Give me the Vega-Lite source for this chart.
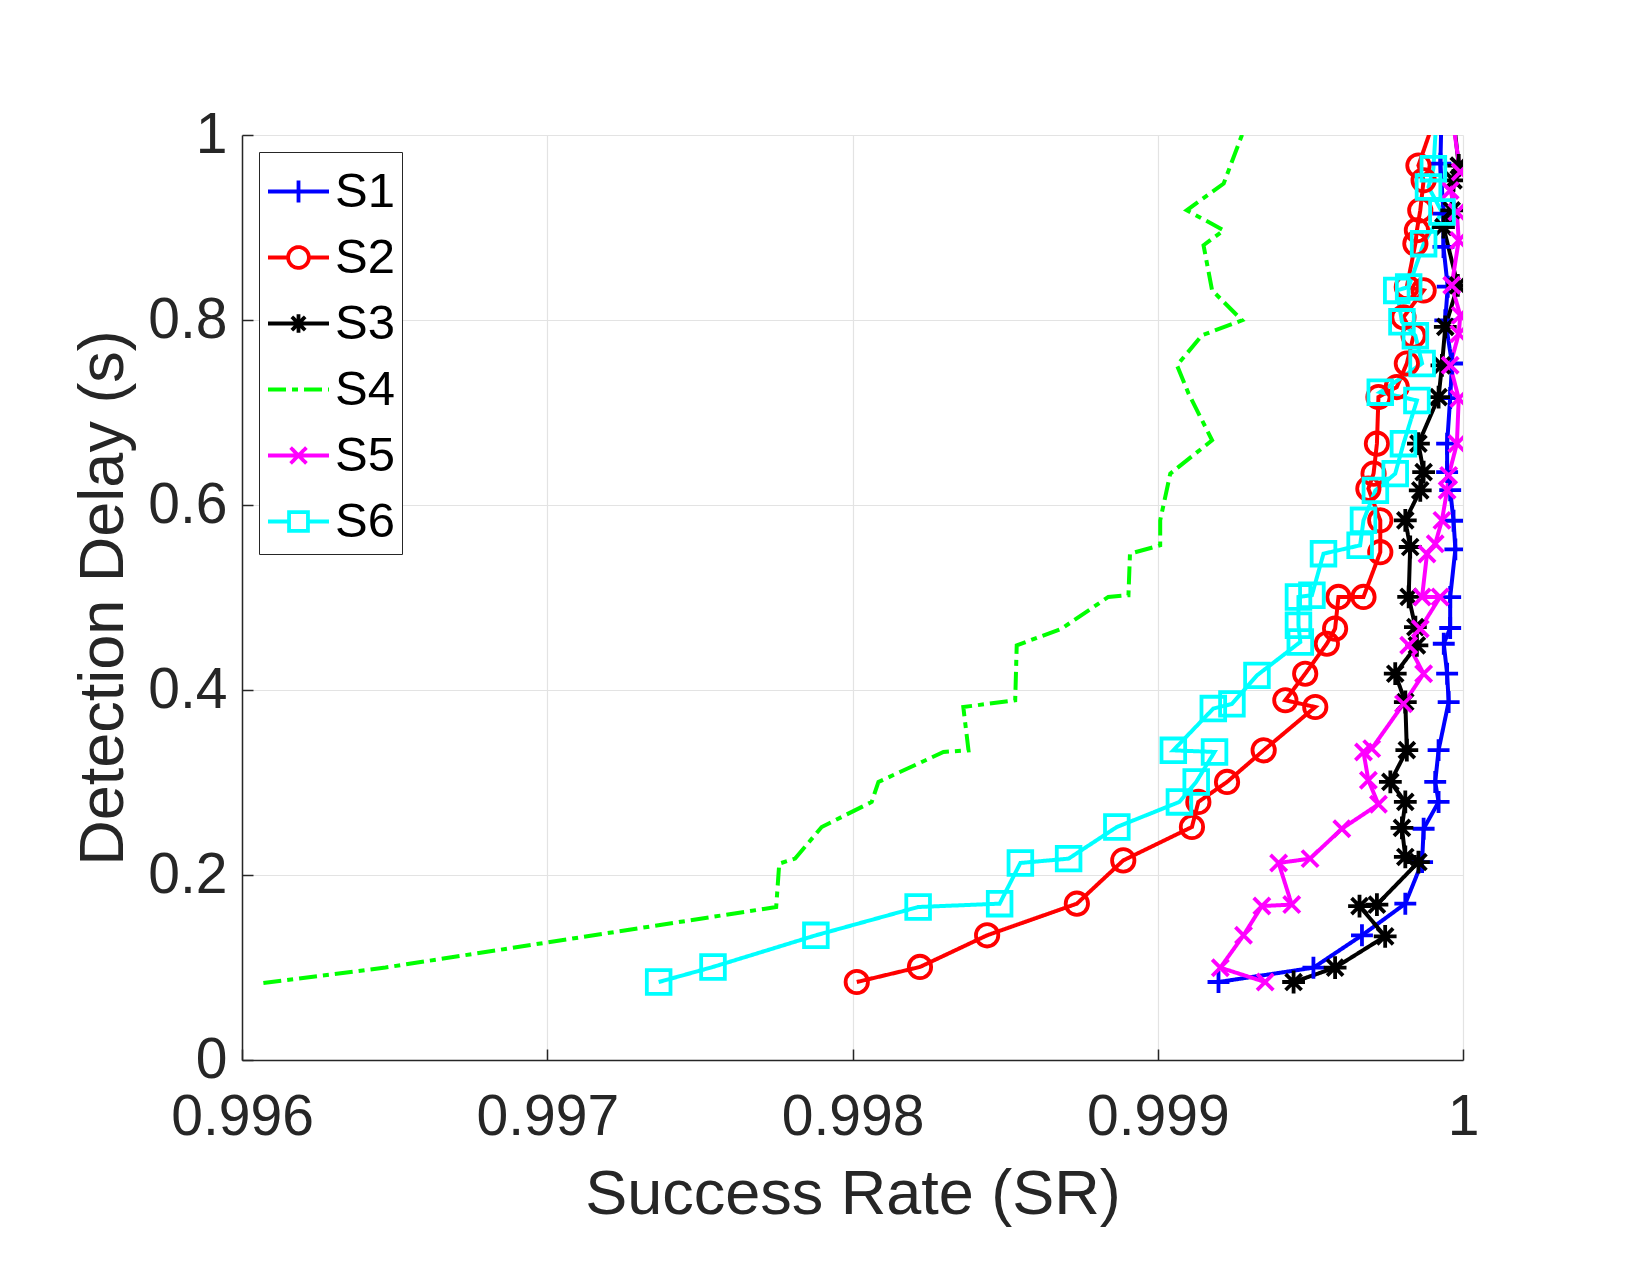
{
  "$schema": "https://vega.github.io/schema/vega-lite/v6.json",
  "width": 1221,
  "height": 925,
  "autosize": {"type": "none"},
  "padding": {"left": 242, "top": 135, "right": 187, "bottom": 215},
  "background": "white",
  "config": {"view": {"stroke": null}, "font": "Liberation Sans"},
  "data": {"values": [
    {"s":"S1","i":0,"y":0.0843,"x":0.999199},{"s":"S1","i":1,"y":0.0998,"x":0.99951},{"s":"S1","i":2,"y":0.1348,"x":0.999669},{"s":"S1","i":3,"y":0.169,"x":0.999811},{"s":"S1","i":4,"y":0.214,"x":0.999866},{"s":"S1","i":5,"y":0.25,"x":0.999871},{"s":"S1","i":6,"y":0.279,"x":0.99992},{"s":"S1","i":7,"y":0.3006,"x":0.999909},{"s":"S1","i":8,"y":0.335,"x":0.99992},{"s":"S1","i":9,"y":0.387,"x":0.999953},{"s":"S1","i":10,"y":0.4176,"x":0.999948},{"s":"S1","i":11,"y":0.45,"x":0.999937},{"s":"S1","i":12,"y":0.467,"x":0.999958},{"s":"S1","i":13,"y":0.5005,"x":0.999958},{"s":"S1","i":14,"y":0.552,"x":0.999975},{"s":"S1","i":15,"y":0.583,"x":0.999969},{"s":"S1","i":16,"y":0.616,"x":0.999958},{"s":"S1","i":17,"y":0.6356,"x":0.999948},{"s":"S1","i":18,"y":0.6663,"x":0.999948},{"s":"S1","i":19,"y":0.7156,"x":0.999958},{"s":"S1","i":20,"y":0.753,"x":0.999964},{"s":"S1","i":21,"y":0.7997,"x":0.999942},{"s":"S1","i":22,"y":0.836,"x":0.99995},{"s":"S1","i":23,"y":0.879,"x":0.999936},{"s":"S1","i":24,"y":0.915,"x":0.999936},{"s":"S1","i":25,"y":0.969,"x":0.999926},{"s":"S1","i":26,"y":1.03,"x":0.99993},
    {"s":"S2","i":0,"y":0.0843,"x":0.998014},{"s":"S2","i":1,"y":0.1006,"x":0.998221},{"s":"S2","i":2,"y":0.1348,"x":0.998441},{"s":"S2","i":3,"y":0.169,"x":0.998735},{"s":"S2","i":4,"y":0.2158,"x":0.998887},{"s":"S2","i":5,"y":0.2519,"x":0.999112},{"s":"S2","i":6,"y":0.279,"x":0.999133},{"s":"S2","i":7,"y":0.3006,"x":0.999227},{"s":"S2","i":8,"y":0.3348,"x":0.999347},{"s":"S2","i":9,"y":0.3816,"x":0.999516},{"s":"S2","i":10,"y":0.3889,"x":0.999418},{"s":"S2","i":11,"y":0.4176,"x":0.999483},{"s":"S2","i":12,"y":0.45,"x":0.999554},{"s":"S2","i":13,"y":0.4663,"x":0.999581},{"s":"S2","i":14,"y":0.5006,"x":0.999592},{"s":"S2","i":15,"y":0.5006,"x":0.999674},{"s":"S2","i":16,"y":0.549,"x":0.999729},{"s":"S2","i":17,"y":0.5834,"x":0.999729},{"s":"S2","i":18,"y":0.6177,"x":0.99969},{"s":"S2","i":19,"y":0.6339,"x":0.999707},{"s":"S2","i":20,"y":0.6663,"x":0.999718},{"s":"S2","i":21,"y":0.7167,"x":0.999723},{"s":"S2","i":22,"y":0.7275,"x":0.999783},{"s":"S2","i":23,"y":0.753,"x":0.999816},{"s":"S2","i":24,"y":0.783,"x":0.999838},{"s":"S2","i":25,"y":0.803,"x":0.999805},{"s":"S2","i":26,"y":0.832,"x":0.999871},{"s":"S2","i":27,"y":0.8357,"x":0.999816},{"s":"S2","i":28,"y":0.8825,"x":0.999844},{"s":"S2","i":29,"y":0.897,"x":0.999849},{"s":"S2","i":30,"y":0.9186,"x":0.99986},{"s":"S2","i":31,"y":0.951,"x":0.999871},{"s":"S2","i":32,"y":0.967,"x":0.999854},{"s":"S2","i":33,"y":1.03,"x":0.99992},
    {"s":"S3","i":0,"y":0.0843,"x":0.999445},{"s":"S3","i":1,"y":0.0998,"x":0.999581},{"s":"S3","i":2,"y":0.1337,"x":0.999745},{"s":"S3","i":3,"y":0.1664,"x":0.999661},{"s":"S3","i":4,"y":0.168,"x":0.999718},{"s":"S3","i":5,"y":0.214,"x":0.999854},{"s":"S3","i":6,"y":0.2195,"x":0.999811},{"s":"S3","i":7,"y":0.251,"x":0.9998},{"s":"S3","i":8,"y":0.279,"x":0.999811},{"s":"S3","i":9,"y":0.3006,"x":0.999762},{"s":"S3","i":10,"y":0.335,"x":0.999816},{"s":"S3","i":11,"y":0.387,"x":0.999811},{"s":"S3","i":12,"y":0.4176,"x":0.999778},{"s":"S3","i":13,"y":0.4483,"x":0.999849},{"s":"S3","i":14,"y":0.468,"x":0.999844},{"s":"S3","i":15,"y":0.5006,"x":0.999822},{"s":"S3","i":16,"y":0.5546,"x":0.999827},{"s":"S3","i":17,"y":0.5834,"x":0.999811},{"s":"S3","i":18,"y":0.6158,"x":0.99986},{"s":"S3","i":19,"y":0.6356,"x":0.999871},{"s":"S3","i":20,"y":0.6663,"x":0.999854},{"s":"S3","i":21,"y":0.7167,"x":0.99992},{"s":"S3","i":22,"y":0.751,"x":0.999931},{"s":"S3","i":23,"y":0.7925,"x":0.999942},{"s":"S3","i":24,"y":0.8375,"x":0.999983},{"s":"S3","i":25,"y":0.9005,"x":0.999936},{"s":"S3","i":26,"y":0.9186,"x":0.999963},{"s":"S3","i":27,"y":0.951,"x":0.999969},{"s":"S3","i":28,"y":0.967,"x":0.999986},{"s":"S3","i":29,"y":1.03,"x":0.999965},
    {"s":"S4","i":0,"y":0.0833,"x":0.99607},{"s":"S4","i":1,"y":0.1,"x":0.99647},{"s":"S4","i":2,"y":0.1654,"x":0.99775},{"s":"S4","i":3,"y":0.2123,"x":0.99776},{"s":"S4","i":4,"y":0.2177,"x":0.997812},{"s":"S4","i":5,"y":0.2519,"x":0.997899},{"s":"S4","i":6,"y":0.279,"x":0.998063},{"s":"S4","i":7,"y":0.3006,"x":0.998085},{"s":"S4","i":8,"y":0.333,"x":0.998298},{"s":"S4","i":9,"y":0.3348,"x":0.99838},{"s":"S4","i":10,"y":0.3816,"x":0.998363},{"s":"S4","i":11,"y":0.3889,"x":0.998533},{"s":"S4","i":12,"y":0.4483,"x":0.998538},{"s":"S4","i":13,"y":0.4663,"x":0.998685},{"s":"S4","i":14,"y":0.5006,"x":0.998838},{"s":"S4","i":15,"y":0.5024,"x":0.998904},{"s":"S4","i":16,"y":0.5474,"x":0.998909},{"s":"S4","i":17,"y":0.5564,"x":0.999008},{"s":"S4","i":18,"y":0.5834,"x":0.999008},{"s":"S4","i":19,"y":0.6339,"x":0.999041},{"s":"S4","i":20,"y":0.67,"x":0.999178},{"s":"S4","i":21,"y":0.7204,"x":0.999101},{"s":"S4","i":22,"y":0.751,"x":0.999063},{"s":"S4","i":23,"y":0.7834,"x":0.999145},{"s":"S4","i":24,"y":0.7997,"x":0.999276},{"s":"S4","i":25,"y":0.8321,"x":0.999178},{"s":"S4","i":26,"y":0.8808,"x":0.99915},{"s":"S4","i":27,"y":0.897,"x":0.999216},{"s":"S4","i":28,"y":0.9186,"x":0.999095},{"s":"S4","i":29,"y":0.9475,"x":0.999216},{"s":"S4","i":30,"y":1.03,"x":0.99931},
    {"s":"S5","i":0,"y":0.0843,"x":0.999352},{"s":"S5","i":1,"y":0.0998,"x":0.999205},{"s":"S5","i":2,"y":0.1348,"x":0.999281},{"s":"S5","i":3,"y":0.1664,"x":0.999341},{"s":"S5","i":4,"y":0.168,"x":0.999439},{"s":"S5","i":5,"y":0.213,"x":0.999396},{"s":"S5","i":6,"y":0.2177,"x":0.999499},{"s":"S5","i":7,"y":0.25,"x":0.999603},{"s":"S5","i":8,"y":0.2764,"x":0.999723},{"s":"S5","i":9,"y":0.3024,"x":0.99969},{"s":"S5","i":10,"y":0.333,"x":0.999674},{"s":"S5","i":11,"y":0.3366,"x":0.999701},{"s":"S5","i":12,"y":0.385,"x":0.999805},{"s":"S5","i":13,"y":0.4176,"x":0.999871},{"s":"S5","i":14,"y":0.4483,"x":0.999822},{"s":"S5","i":15,"y":0.4663,"x":0.99986},{"s":"S5","i":16,"y":0.5006,"x":0.999925},{"s":"S5","i":17,"y":0.5006,"x":0.999866},{"s":"S5","i":18,"y":0.547,"x":0.999882},{"s":"S5","i":19,"y":0.558,"x":0.999909},{"s":"S5","i":20,"y":0.5834,"x":0.999931},{"s":"S5","i":21,"y":0.616,"x":0.999948},{"s":"S5","i":22,"y":0.632,"x":0.999953},{"s":"S5","i":23,"y":0.6663,"x":0.99998},{"s":"S5","i":24,"y":0.715,"x":0.999986},{"s":"S5","i":25,"y":0.751,"x":0.999958},{"s":"S5","i":26,"y":0.785,"x":0.999986},{"s":"S5","i":27,"y":0.805,"x":0.999991},{"s":"S5","i":28,"y":0.8375,"x":0.999963},{"s":"S5","i":29,"y":0.886,"x":0.999986},{"s":"S5","i":30,"y":0.9167,"x":0.99998},{"s":"S5","i":31,"y":0.94,"x":0.999958},{"s":"S5","i":32,"y":0.96,"x":0.999991},{"s":"S5","i":33,"y":1.03,"x":0.99996},
    {"s":"S6","i":0,"y":0.0843,"x":0.997365},{"s":"S6","i":1,"y":0.1006,"x":0.997543},{"s":"S6","i":2,"y":0.1348,"x":0.99788},{"s":"S6","i":3,"y":0.1654,"x":0.998215},{"s":"S6","i":4,"y":0.169,"x":0.998482},{"s":"S6","i":5,"y":0.213,"x":0.99855},{"s":"S6","i":6,"y":0.2177,"x":0.998708},{"s":"S6","i":7,"y":0.2519,"x":0.998866},{"s":"S6","i":8,"y":0.279,"x":0.999071},{"s":"S6","i":9,"y":0.3006,"x":0.999126},{"s":"S6","i":10,"y":0.333,"x":0.999186},{"s":"S6","i":11,"y":0.3348,"x":0.999051},{"s":"S6","i":12,"y":0.3799,"x":0.999182},{"s":"S6","i":13,"y":0.385,"x":0.999243},{"s":"S6","i":14,"y":0.4158,"x":0.999325},{"s":"S6","i":15,"y":0.4519,"x":0.999467},{"s":"S6","i":16,"y":0.47,"x":0.999461},{"s":"S6","i":17,"y":0.5006,"x":0.999461},{"s":"S6","i":18,"y":0.5024,"x":0.999505},{"s":"S6","i":19,"y":0.5474,"x":0.999543},{"s":"S6","i":20,"y":0.5564,"x":0.999663},{"s":"S6","i":21,"y":0.5834,"x":0.999674},{"s":"S6","i":22,"y":0.6158,"x":0.999713},{"s":"S6","i":23,"y":0.6339,"x":0.999778},{"s":"S6","i":24,"y":0.6663,"x":0.999805},{"s":"S6","i":25,"y":0.713,"x":0.999849},{"s":"S6","i":26,"y":0.722,"x":0.999729},{"s":"S6","i":27,"y":0.753,"x":0.999866},{"s":"S6","i":28,"y":0.783,"x":0.999844},{"s":"S6","i":29,"y":0.798,"x":0.9998},{"s":"S6","i":30,"y":0.832,"x":0.999783},{"s":"S6","i":31,"y":0.8357,"x":0.999822},{"s":"S6","i":32,"y":0.8825,"x":0.999871},{"s":"S6","i":33,"y":0.9167,"x":0.999931},{"s":"S6","i":34,"y":0.9438,"x":0.999887},{"s":"S6","i":35,"y":0.9636,"x":0.999903},{"s":"S6","i":36,"y":1.03,"x":0.999915}
  ]},
  "encoding": {
    "x": {"field": "x", "type": "quantitative",
      "scale": {"domain": [0.996, 1], "nice": false, "zero": false},
      "axis": {"values": [0.996, 0.997, 0.998, 0.999, 1], "format": ".3~f", "title": "Success Rate (SR)",
        "titleFontSize": 63, "titleFontWeight": "normal", "titleColor": "#262626", "titlePadding": 18,
        "labelFontSize": 57, "labelColor": "#262626", "labelPadding": 40, "labelFlush": false, "labelOverlap": false,
        "tickSize": -11, "tickColor": "#262626", "tickWidth": 1.5, "domainColor": "#262626", "domainWidth": 1.5,
        "grid": true, "gridColor": "#e3e3e3", "gridWidth": 1.2}},
    "y": {"field": "y", "type": "quantitative",
      "scale": {"domain": [0, 1], "nice": false, "zero": false},
      "axis": {"values": [0, 0.2, 0.4, 0.6, 0.8, 1], "format": ".1~f", "title": "Detection Delay (s)",
        "titleFontSize": 63, "titleFontWeight": "normal", "titleColor": "#262626", "titlePadding": 12,
        "labelFontSize": 57, "labelColor": "#262626", "labelPadding": 26, "labelFlush": false, "labelOverlap": false,
        "tickSize": -11, "tickColor": "#262626", "tickWidth": 1.5, "domainColor": "#262626", "domainWidth": 1.5,
        "grid": true, "gridColor": "#e3e3e3", "gridWidth": 1.2}},
    "color": {"field": "s", "type": "nominal",
      "scale": {"domain": ["S1", "S2", "S3", "S4", "S5", "S6"], "range": ["#0000ff", "#ff0000", "#000000", "#00ff00", "#ff00ff", "#00ffff"]},
      "legend": {"orient": "none", "legendX": 17, "legendY": 17, "title": null, "direction": "vertical",
        "fillColor": "white", "strokeColor": "#262626", "padding": 7, "rowPadding": 8,
        "labelFontSize": 49, "labelColor": "#000000", "labelOffset": 4, "labelBaseline": "middle",
        "symbolSize": 3721, "symbolStrokeWidth": 3.5, "symbolType": "stroke",
        "encode": {"symbols": {"update": {
          "shape": {"signal": "datum.value === 'S1' ? 'M-1,0H1M0,-0.36V0.36' : datum.value === 'S2' ? 'M-1,0H-0.34M0.34,0H1M0.34,0A0.34,0.34,0,1,1,-0.34,0A0.34,0.34,0,1,1,0.34,0' : datum.value === 'S3' ? 'M-1,0H1M0,-0.3V0.3M-0.22,-0.22L0.22,0.22M-0.22,0.22L0.22,-0.22' : datum.value === 'S5' ? 'M-1,0H1M-0.26,-0.26L0.26,0.26M-0.26,0.26L0.26,-0.26' : datum.value === 'S6' ? 'M-1,0H-0.31M0.31,0H1M-0.31,-0.31H0.31V0.31H-0.31Z' : 'M-1,0H1'"},
          "strokeDash": {"signal": "datum.value === 'S4' ? [16, 6, 6, 6] : [1, 0]"},
          "fill": {"value": "transparent"},
          "strokeWidth": {"value": 3.8}}}}}},
    "order": {"field": "i", "type": "quantitative"}
  },
  "layer": [
    {"mark": {"type": "line", "strokeWidth": 4, "clip": true},
     "encoding": {"strokeDash": {"field": "s", "type": "nominal", "legend": null,
       "scale": {"domain": ["S1", "S2", "S3", "S4", "S5", "S6"], "range": [[1, 0], [1, 0], [1, 0], [18, 6, 6, 6], [1, 0], [1, 0]]}}}},
    {"transform": [{"filter": "datum.s !== 'S4'"}],
     "mark": {"type": "point", "filled": false, "strokeWidth": 3.8, "clip": true, "opacity": 1},
     "encoding": {
       "shape": {"field": "s", "type": "nominal", "legend": null,
         "scale": {"domain": ["S1", "S2", "S3", "S5", "S6"], "range": ["M-1,0H1M0,-1V1", "circle", "M-1,0H1M0,-1V1M-0.7,-0.7L0.7,0.7M-0.7,0.7L0.7,-0.7", "M-0.7,-0.7L0.7,0.7M-0.7,0.7L0.7,-0.7", "square"]}},
       "size": {"field": "s", "type": "nominal", "legend": null,
         "scale": {"domain": ["S1", "S2", "S3", "S5", "S6"], "range": [480, 560, 420, 480, 380]}}}}
  ]
}
